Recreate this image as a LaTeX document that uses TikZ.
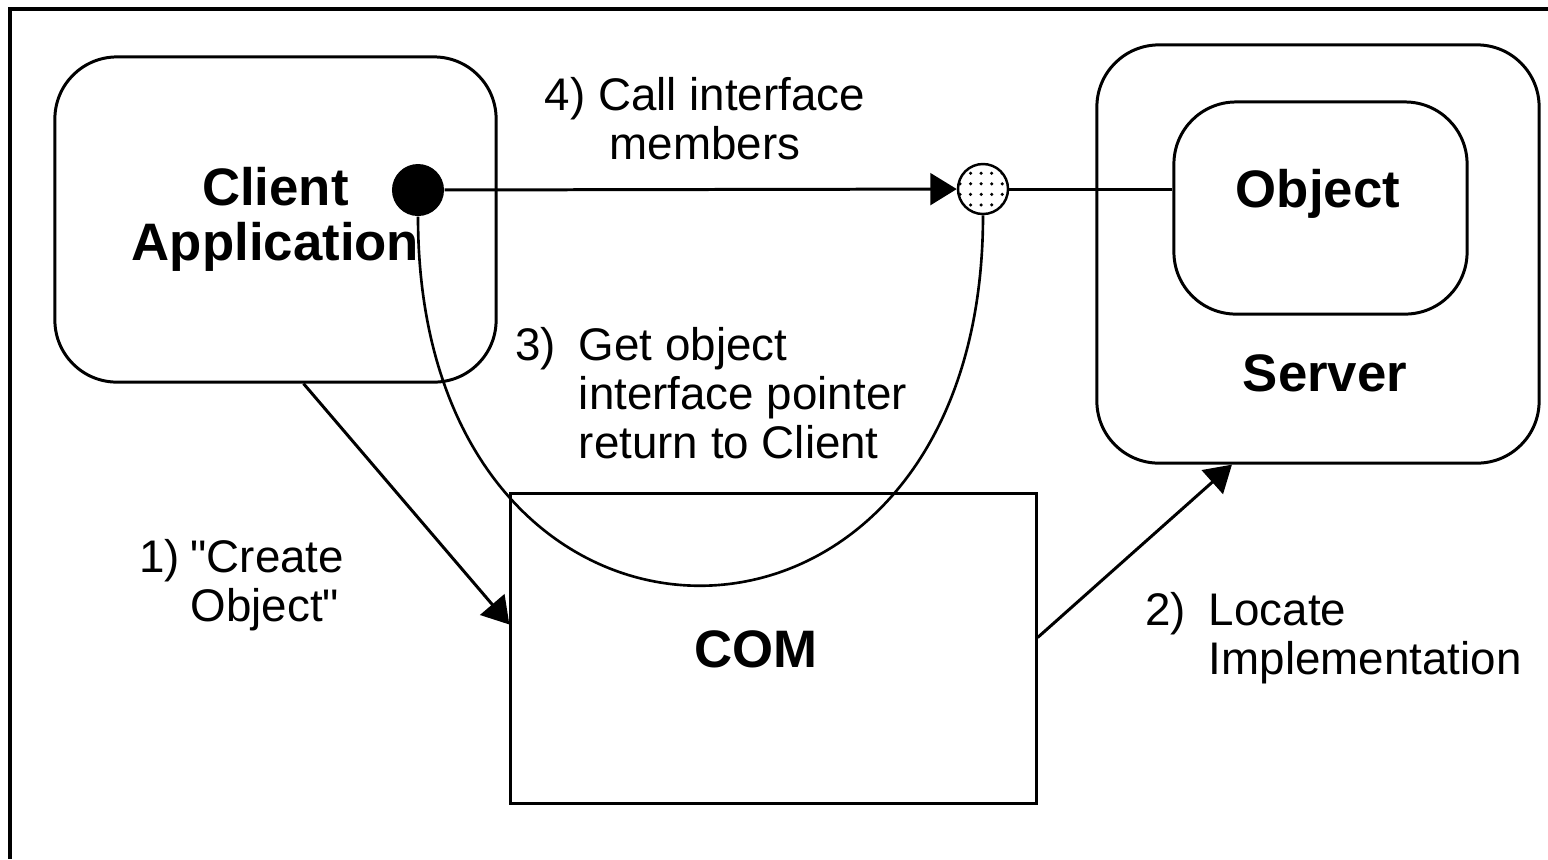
\documentclass[tikz,border=0pt]{standalone}
\usepackage{fontspec}
\setmainfont{Liberation Sans}[Ligatures=TeXOff]
\usepackage{xcolor}
\usepackage{tikz}
\usetikzlibrary{arrows.meta, patterns}
\definecolor{comink}{HTML}{000000}

\begin{document}
\begin{tikzpicture}[x=0.01cm, y=-0.01cm,
    roundbox/.style={draw=comink, line width=0.85pt, rounded corners=0.62cm, inner sep=0pt},
    flow/.style={draw=comink, line width=0.85pt, -{Triangle[length=7.5pt, width=9pt]}},
    plain/.style={font=\fontsize{13}{14}\selectfont},
    heavy/.style={font=\fontsize{15}{15.6}\selectfont\bfseries}]
  \useasboundingbox (0,0) rectangle (1548,859);

  % outer frame (only top and left edges show)
  \draw[comink, line width=1.15pt] (1548,9) -- (10,9) -- (10,859);

  % Left side - client
  \node[roundbox, minimum width=4.41cm, minimum height=3.25cm, heavy, align=center] (client) at (275.5,219.5) {Client\\Application};

  % Right side - server holding the object
  \node[roundbox, minimum width=4.42cm, minimum height=4.18cm] (server) at (1318,254) {};
  \node[roundbox, minimum width=2.93cm, minimum height=2.12cm] (object) at (1320.5,208) {};
  \node[heavy, anchor=base] (objtxt) at (1318,207) {Object};
  \node[heavy, anchor=base] (srvtxt) at (1325,391) {Server};

  % Center - COM
  \node[draw=comink, line width=0.85pt, minimum width=5.25cm, minimum height=3.09cm, inner sep=0pt] (com) at (773.5,648.5) {};
  \node[heavy, anchor=base] (comtxt) at (756,667) {COM};

  % interface ends
  \node[circle, fill=comink, minimum size=0.52cm, inner sep=0pt] (cdot) at (418,190) {};
  \node[circle, draw=comink, line width=0.7pt, pattern=dots, pattern color=comink, minimum size=0.5cm, inner sep=0pt] (odot) at (983,189) {};

  % connectors
  \draw[flow] ([xshift=0.28cm]client.south) -- ([yshift=0.24cm]com.west);
  \draw[flow] ([yshift=0.11cm]com.east) -- ([xshift=-0.86cm]server.south);
  \draw[flow] (cdot) -- (odot);
  \draw[comink, line width=0.85pt] (odot.east) -- (odot.east -| object.west);
  \draw[comink, line width=0.75pt] (cdot.south) .. controls +(0,493) and +(0,493) .. (odot.south);

  % step labels
  \node[plain, anchor=base] (call) at (705,110) {\begin{tabular}[t]{@{}c@{}}4) Call interface\\members\end{tabular}};
  \node[plain, anchor=base west] (getptr) at (503,360) {\begin{tabular}[t]{@{}l@{\hspace{6.5pt}}l@{}}3) & Get object\\ & interface pointer\\ & return to Client\end{tabular}};
  \node[plain, anchor=base west] (create) at (127,572) {\begin{tabular}[t]{@{}l@{\hspace{3pt}}l@{}}1) & "Create\\ & Object"\end{tabular}};
  \node[plain, anchor=base west] (locate) at (1133,625) {\begin{tabular}[t]{@{}l@{\hspace{6.5pt}}l@{}}2) & Locate\\ & Implementation\end{tabular}};
\end{tikzpicture}
\end{document}
